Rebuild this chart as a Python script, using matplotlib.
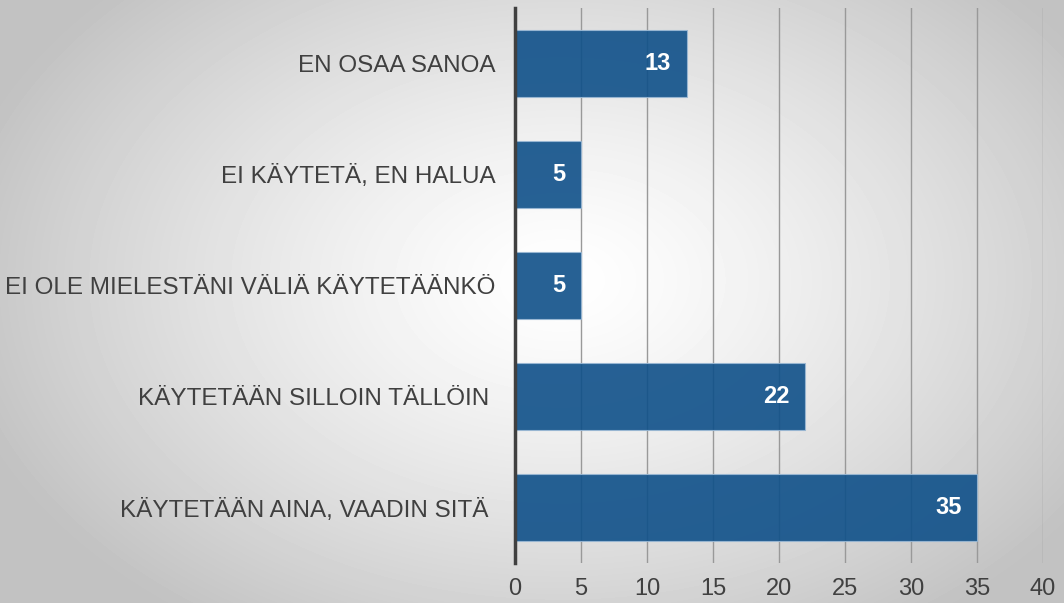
import numpy as np
import matplotlib.pyplot as plt
from matplotlib.transforms import offset_copy

# Data
categories = ["KÄYTETÄÄN AINA, VAADIN SITÄ ", "KÄYTETÄÄN SILLOIN TÄLLÖIN ",
              "EI OLE MIELESTÄNI VÄLIÄ KÄYTETÄÄNKÖ", "EI KÄYTETÄ, EN HALUA",
              "EN OSAA SANOA"]
values = [35, 22, 5, 5, 13]
xticks = [0, 5, 10, 15, 20, 25, 30, 35, 40]

plt.rcParams['font.family'] = ['Liberation Sans', 'DejaVu Sans']

fig = plt.figure(figsize=(10.64, 6.03), dpi=100)

# radial gradient background
bg = fig.add_axes([0, 0, 1, 1], zorder=-10)
yy, xx = np.mgrid[0:603, 0:1064]
r = np.sqrt(((xx - 560) / 620.0) ** 2 + ((yy - 280) / 420.0) ** 2)
r = np.clip(r, 0, 1)
shade = 1.0 - 0.24 * r ** 1.3
bg.imshow(shade, cmap='gray', vmin=0, vmax=1, aspect='auto', extent=[0, 1, 0, 1])
bg.axis('off')

ax = fig.add_axes([515 / 1064, 1 - 563 / 603, 528 / 1064, 555 / 603])
ax.patch.set_alpha(0)

y = np.arange(len(categories))
ax.barh(y, values, height=0.6, color='#0f5089', alpha=0.9,
        edgecolor='#9ab8d4', linewidth=0.8, zorder=3)

ax.set_xlim(0, 40)
ax.set_ylim(-0.5, len(categories) - 0.5)
ax.set_xticks(xticks)
ax.set_yticks(y)
ax.set_yticklabels(categories)
ax.tick_params(axis='y', length=0, pad=14, labelsize=17.5, labelcolor='#404040')
ax.tick_params(axis='x', length=0, pad=11, labelsize=17, labelcolor='#404040')
ax.grid(axis='x', color='#999999', linewidth=1.0, zorder=4)
ax.set_axisbelow(False)

for s in ['top', 'right', 'bottom']:
    ax.spines[s].set_visible(False)
ax.spines['left'].set_color('#404040')
ax.spines['left'].set_linewidth(2.5)
ax.spines['left'].set_zorder(6)

trans = offset_copy(ax.transData, fig=fig, x=-11, y=0, units='points')
for yi, v in zip(y, values):
    ax.text(v, yi, str(v), transform=trans, ha='right', va='center',
            color='white', fontsize=17, fontweight='bold', zorder=6)

fig.savefig('out.png', dpi=100)
